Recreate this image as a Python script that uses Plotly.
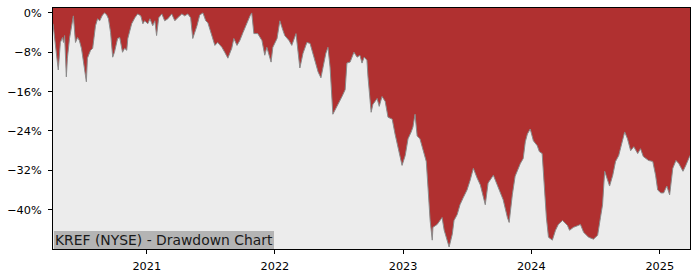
import plotly.graph_objects as go
import pandas as pd

# Drawdown (%)
dates = [
    "2020-04-09", "2020-04-16", "2020-04-24", "2020-04-30", "2020-05-06", "2020-05-09", "2020-05-12",
    "2020-05-17", "2020-05-20", "2020-05-26", "2020-06-03", "2020-06-06", "2020-06-12", "2020-06-18",
    "2020-06-23", "2020-06-29", "2020-07-02", "2020-07-13", "2020-07-16", "2020-07-25", "2020-07-31",
    "2020-08-08", "2020-08-14", "2020-08-20", "2020-08-28", "2020-09-03", "2020-09-09", "2020-09-14",
    "2020-09-20", "2020-09-26", "2020-10-01", "2020-10-10", "2020-10-16", "2020-10-21", "2020-10-24",
    "2020-10-30", "2020-11-05", "2020-11-08", "2020-11-13", "2020-11-19", "2020-11-28", "2020-12-06",
    "2020-12-15", "2020-12-21", "2020-12-26",
    "2021-01-04", "2021-01-10", "2021-01-18", "2021-01-24", "2021-01-29", "2021-02-04", "2021-02-13",
    "2021-02-21", "2021-03-02", "2021-03-13", "2021-03-22", "2021-03-30", "2021-04-11", "2021-04-19",
    "2021-04-28", "2021-05-06", "2021-05-12", "2021-05-24", "2021-06-01", "2021-06-10", "2021-06-18",
    "2021-06-24", "2021-07-05", "2021-07-14", "2021-07-22", "2021-08-03", "2021-08-11", "2021-08-20",
    "2021-08-31", "2021-09-06", "2021-09-15", "2021-09-23", "2021-10-02", "2021-10-13", "2021-10-22",
    "2021-10-27", "2021-11-02", "2021-11-13", "2021-11-25", "2021-12-03", "2021-12-09", "2021-12-21",
    "2021-12-26",
    "2022-01-07", "2022-01-15", "2022-01-24", "2022-01-29", "2022-02-10", "2022-02-18", "2022-03-02",
    "2022-03-13", "2022-03-22", "2022-04-02", "2022-04-11", "2022-04-19", "2022-04-28", "2022-05-04",
    "2022-05-12", "2022-05-18", "2022-05-26", "2022-06-01", "2022-06-07", "2022-06-15", "2022-06-27",
    "2022-07-11", "2022-07-20", "2022-07-25", "2022-08-03", "2022-08-14", "2022-08-23", "2022-08-31",
    "2022-09-06", "2022-09-12", "2022-09-20", "2022-09-23", "2022-10-02", "2022-10-07", "2022-10-19",
    "2022-10-25", "2022-11-02", "2022-11-11", "2022-11-19", "2022-12-01", "2022-12-09", "2022-12-18",
    "2022-12-29",
    "2023-01-07", "2023-01-15", "2023-01-24", "2023-01-29", "2023-02-04", "2023-02-10", "2023-02-18",
    "2023-02-27", "2023-03-08", "2023-03-13", "2023-03-19", "2023-03-25", "2023-03-27", "2023-04-08",
    "2023-04-16", "2023-04-22", "2023-04-28", "2023-05-09", "2023-05-12", "2023-05-21", "2023-05-26",
    "2023-06-04", "2023-06-12", "2023-06-21", "2023-07-02", "2023-07-11", "2023-07-20", "2023-07-31",
    "2023-08-09", "2023-08-23", "2023-08-31", "2023-09-15", "2023-09-26", "2023-10-07", "2023-10-13",
    "2023-10-25", "2023-10-30", "2023-11-08", "2023-11-16", "2023-12-01", "2023-12-09", "2023-12-15",
    "2023-12-21", "2023-12-29",
    "2024-01-07", "2024-01-18", "2024-01-24", "2024-02-01", "2024-02-04", "2024-02-13", "2024-02-19",
    "2024-03-01", "2024-03-10", "2024-03-18", "2024-03-30", "2024-04-13", "2024-04-19", "2024-04-30",
    "2024-05-14", "2024-05-20", "2024-05-29", "2024-06-12", "2024-06-26", "2024-07-08", "2024-07-16",
    "2024-07-22", "2024-07-28", "2024-08-05", "2024-08-11", "2024-08-20", "2024-08-28", "2024-09-06",
    "2024-09-17", "2024-09-23", "2024-10-01", "2024-10-10", "2024-10-19", "2024-10-30", "2024-11-07",
    "2024-11-15", "2024-11-30", "2024-12-12", "2024-12-20", "2024-12-26",
    "2025-01-04", "2025-01-12", "2025-01-21", "2025-01-29", "2025-02-07", "2025-02-16", "2025-02-24",
    "2025-03-08", "2025-03-16", "2025-03-25", "2025-03-28",
]

drawdown = [
    -2.2, -6.6, -11.6, -6.0, -5.0, -6.0, -4.6,
    -13.0, -9.2, -5.2, -1.2, -0.6, -6.0, -5.0,
    -5.6, -7.2, -8.6, -14.0, -9.2, -7.6, -7.2,
    -2.6, -1.2, -1.6, -0.4, 0.0, -0.4, -1.2,
    -4.0, -9.0, -8.0, -5.2, -5.0, -6.6, -8.0,
    -7.2, -7.6, -5.2, -3.6, -2.2, -1.0, -0.2,
    -0.6, -2.2, -1.6,
    -2.2, -1.2, -2.6, -1.6, -4.6, -1.0, -0.2,
    -1.6, -1.2, -0.2, -1.6, -1.0, -0.2, -0.6,
    -0.2, -1.0, -5.2, -2.6, -0.4, 0.0, -1.6,
    -2.0, -4.6, -6.6, -6.0, -7.0, -8.0, -9.2,
    -7.2, -5.2, -6.6, -5.6, -4.0, -2.0, -0.6,
    0.0, -4.2, -4.2, -5.6, -8.6, -7.0, -10.0,
    -7.0,
    -5.2, -1.6, -3.6, -4.6, -5.6, -6.6, -4.2,
    -11.2, -8.2, -6.0, -6.2, -8.2, -11.0, -12.0,
    -13.2, -11.0, -8.2, -7.0, -11.0, -20.6, -19.0,
    -17.0, -15.6, -10.2, -10.0, -8.0, -9.0, -8.6,
    -10.2, -9.0, -9.6, -13.0, -20.2, -18.6, -17.4,
    -19.0, -17.0, -18.0, -21.2, -21.6, -24.6, -27.6,
    -31.0,
    -29.0, -25.6, -24.2, -23.2, -20.6, -25.0, -25.6,
    -28.2, -30.2, -35.6, -42.2, -46.2, -43.6, -43.0,
    -42.2, -41.6, -44.2, -47.2, -47.6, -45.0, -42.2,
    -41.0, -39.0, -37.6, -36.0, -34.0, -31.6, -33.6,
    -35.0, -39.0, -34.6, -33.0, -35.0, -37.2, -38.0,
    -41.6, -42.6, -37.0, -33.2, -30.6, -29.6, -26.2,
    -24.6, -23.6,
    -26.0, -27.0, -28.2, -28.6, -32.2, -41.6, -45.6,
    -46.2, -44.2, -43.0, -42.2, -43.2, -44.2, -43.6,
    -43.2, -43.0, -44.6, -45.6, -46.0, -45.2, -41.6,
    -39.0, -32.2, -34.2, -35.2, -33.0, -30.2, -29.0,
    -26.2, -24.2, -25.6, -28.0, -27.2, -28.6, -27.6,
    -29.2, -30.0, -30.2, -33.0, -36.0,
    -36.6, -36.6, -35.2, -37.0, -31.6, -30.0, -30.6,
    -32.2, -31.0, -29.2, -29.0,
]

y_ticks = [0, -8, -16, -24, -32, -40]
y_tick_labels = ["0%", "\u22128%", "\u221216%", "\u221224%", "\u221232%", "\u221240%"]
x_tick_dates = ["2021-01-01", "2022-01-01", "2023-01-01", "2024-01-01", "2025-01-01"]
x_tick_labels = ["2021", "2022", "2023", "2024", "2025"]

title_text = "KREF (NYSE) - Drawdown Chart"

Y_MIN, Y_MAX = -48, 1
RED = "#b03030"
GREY_BG = "#ececec"

d = pd.to_datetime(dates)

fig = go.Figure()
fig.add_trace(go.Scatter(
    x=d, y=[Y_MIN] * len(d), mode="lines", line=dict(width=0, color=GREY_BG),
    hoverinfo="skip", showlegend=False,
))
fig.add_trace(go.Scatter(
    x=d, y=drawdown, mode="lines", line=dict(width=1, color="#8a8a8a"),
    fill="tonexty", fillcolor=GREY_BG, showlegend=False,
))

font_family = "DejaVu Sans"
fig.update_layout(
    width=700, height=280,
    margin=dict(l=53, r=10, t=7, b=28),
    paper_bgcolor="white",
    plot_bgcolor=RED,
    font=dict(family=font_family, size=11.3, color="black"),
    showlegend=False,
    xaxis=dict(
        range=[d[0], d[-1]],
        tickvals=pd.to_datetime(x_tick_dates), ticktext=x_tick_labels,
        ticks="outside", ticklen=4, tickwidth=1, tickcolor="black",
        showgrid=False, zeroline=False,
        showline=True, linecolor="black", linewidth=1, mirror=True,
        ticklabelstandoff=2,
    ),
    yaxis=dict(
        range=[Y_MIN, Y_MAX],
        tickvals=y_ticks, ticktext=y_tick_labels,
        ticks="outside", ticklen=4, tickwidth=1, tickcolor="black",
        showgrid=False, zeroline=False,
        showline=True, linecolor="black", linewidth=1, mirror=True,
        ticklabelstandoff=4,
    ),
    annotations=[dict(
        text=title_text, xref="paper", yref="paper", x=0, y=0,
        xanchor="left", yanchor="bottom", showarrow=False,
        font=dict(family=font_family, size=13.9, color="#1a1a1a"),
        bgcolor="#b4b4b4", borderpad=1, borderwidth=0,
        xshift=1,
    )],
)

fig.write_html("out.html")
